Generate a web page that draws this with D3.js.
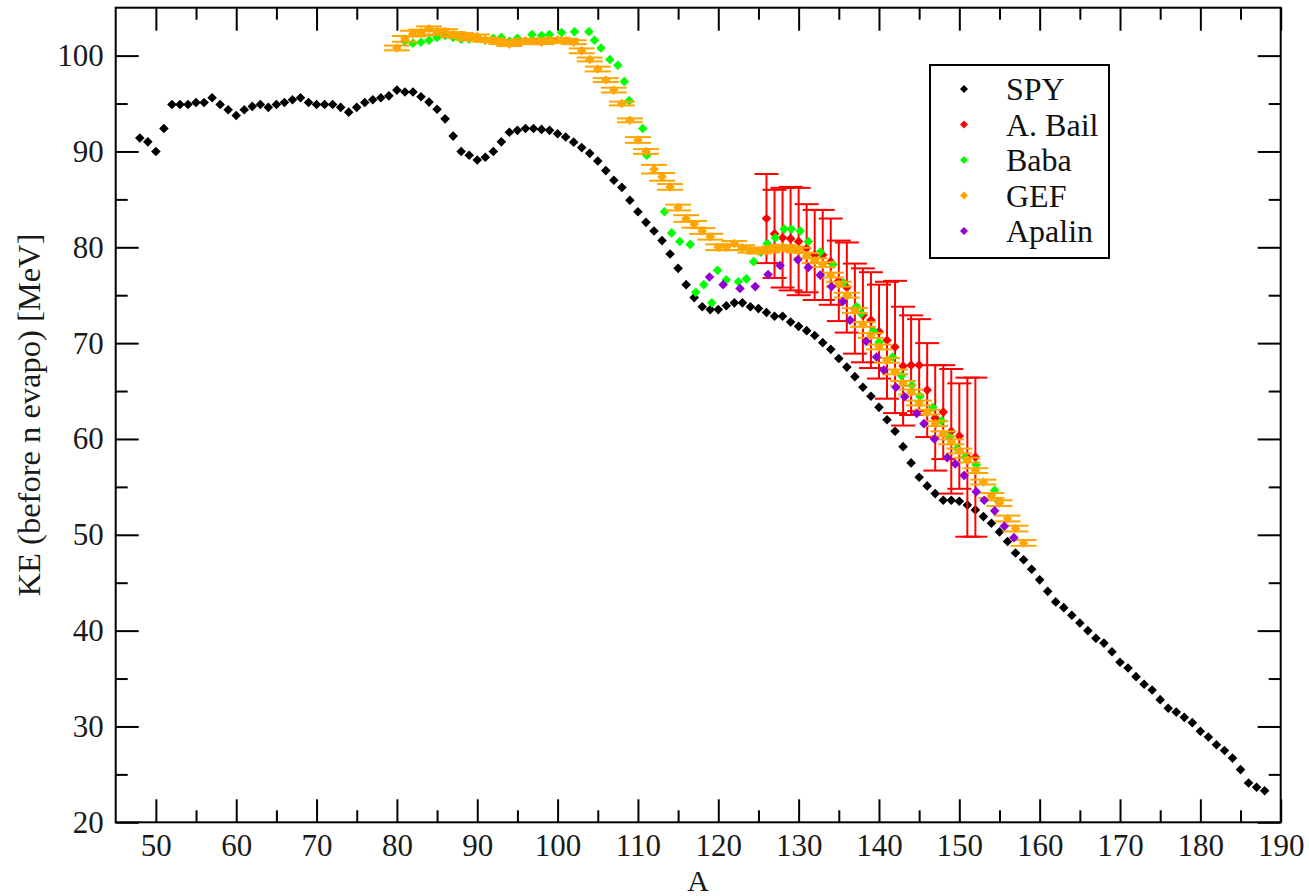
<!DOCTYPE html>
<html>
<head>
<meta charset="utf-8">
<script src="https://cdn.jsdelivr.net/npm/d3@7"></script>
<style>
  body { margin: 0; background: #fff; }
  svg { display: block; font-family: "Liberation Serif", "Times New Roman", serif; }
</style>
</head>
<body>
<svg id="chart"></svg>
<script>
// ---- data: [A, KE] or [A, KE, err] ----
var spy = [
  [48,91.4],[49,91.0],[50,90.0],[51,92.4],[52,94.9],[53,94.9],[54,94.9],[55,95.1],[56,95.1],[57,95.6],
  [58,94.9],[59,94.35],[60,93.75],[61,94.35],[62,94.7],[63,94.9],[64,94.6],[65,94.9],[66,95.1],[67,95.4],
  [68,95.6],[69,95.1],[70,94.9],[71,94.9],[72,94.9],[73,94.6],[74,94.1],[75,94.6],[76,95.1],[77,95.4],
  [78,95.6],[79,95.8],[80,96.4],[81,96.2],[82,96.2],[83,95.7],[84,95.15],[85,94.4],[86,93.4],[87,91.6],
  [88,90.0],[89,89.6],[90,89.1],[91,89.4],[92,90.0],[93,91.0],[94,92.0],[95,92.2],[96,92.4],[97,92.4],
  [98,92.3],[99,92.2],[100,91.85],[101,91.5],[102,90.97],[103,90.4],[104,89.8],[105,89.0],[106,88.0],[107,87.0],
  [108,86.25],[109,84.9],[110,83.7],[111,82.6],[112,81.7],[113,80.7],[114,79.3],[115,77.8],[116,76.1],[117,74.75],
  [118,73.8],[119,73.5],[120,73.5],[121,73.9],[122,74.2],[123,74.2],[124,73.8],[125,73.6],[126,73.2],[127,72.8],
  [128,72.8],[129,72.2],[130,71.75],[131,71.3],[132,70.8],[133,70.05],[134,69.35],[135,68.4],[136,67.5],[137,66.5],
  [138,65.4],[139,64.45],[140,63.3],[141,62.0],[142,60.8],[143,59.2],[144,57.5],[145,56.0],[146,55.1],[147,54.3],
  [148,53.6],[149,53.6],[150,53.5],[151,53.1],[152,52.6],[153,51.9],[154,51.2],[155,50.3],[156,49.3],[157,48.1],
  [158,47.4],[159,46.4],[160,45.3],[161,44.1],[162,43.0],[163,42.4],[164,41.6],[165,40.8],[166,40.0],[167,39.2],
  [168,38.7],[169,37.8],[170,36.7],[171,36.1],[172,35.2],[173,34.4],[174,33.8],[175,32.8],[176,31.9],[177,31.5],
  [178,30.95],[179,30.4],[180,29.5],[181,28.9],[182,28.1],[183,27.5],[184,26.7],[185,25.5],[186,24.1],[187,23.65],
  [188,23.3]
];

var bail = [
  [126,83.0,4.65],[127,81.4,4.6],[128,81.0,5.2],[129,80.9,5.4],[130,80.6,5.6],[131,79.9,4.6],[132,79.2,4.7],
  [133,79.2,4.7],[134,78.5,4.5],[135,76.5,4.2],[136,75.8,4.7],[137,73.6,4.7],[138,72.9,4.9],[139,72.4,5.0],
  [140,71.2,4.9],[141,70.3,6.1],[142,69.6,6.9],[143,67.6,6.2],[144,67.7,5.2],[145,67.7,4.8],[146,65.1,4.9],
  [147,62.2,5.5],[148,62.8,4.9],[149,60.8,6.5],[150,60.3,5.5],[151,58.1,8.3],[152,58.1,8.3]
];

var baba = [
  [81,101.5],[82,101.3],[83,101.4],[84,101.6],[85,101.9],[86,102.1],[87,101.9],[88,101.7],[89,101.7],[90,101.8],
  [91,101.6],[92,101.8],[93,101.9],[94,101.5],[95,101.8],[96.8,102.2],[98,102.1],[99,102.2],[100.5,102.4],[102.1,102.5],
  [103.9,102.5],[104.6,101.6],[105.4,100.8],[106.5,99.6],[107.5,99.0],[108.3,97.3],[108.9,95.3],[110.6,92.4],[111.1,89.6],
  [113.3,83.7],[114.2,81.5],[115.2,80.6],[116.5,80.3],[117.2,75.3],[118.2,76.1],[119.2,74.2],[119.9,77.6],[121,76.6],
  [122.5,76.4],[123.5,76.7],[124.4,78.5],[125.3,79.5],[126.1,80.4],[127.1,81.0],[128.2,81.9],[129.1,81.9],[130.2,81.7],
  [131.2,80.6],[132.7,79.5],[134.3,78.2],[135.6,76.3],[136.1,75.0],[137.2,73.8],[137.8,73.1],[139.3,71.3],[140,70.1],
  [141.7,68.55],[142.8,66.6],[144.1,65.6],[145.1,64.45],[146.7,63.3],[147.8,61.9],[148.8,60.2],[149.7,59.0],[150.7,58.1],
  [152.1,57.3],[154.4,54.65],[154.9,53.5]
];

var gef = [
  [80,100.8,0.25],[81,101.75,0.3],[82,102.3,0.3],[83,102.4,0.3],[84,102.8,0.25],[85,102.5,0.3],[86,102.5,0.25],
  [87,102.2,0.25],[88,102.1,0.25],[89,101.85,0.25],[90,102.0,0.2],[91,101.65,0.2],[92,101.6,0.2],[93,101.4,0.2],
  [94,101.2,0.2],[95,101.4,0.2],[96,101.55,0.2],[97,101.55,0.2],[98,101.4,0.2],[99,101.6,0.2],[100,101.65,0.2],
  [101,101.55,0.2],[102,101.4,0.2],[103,100.5,0.25],[104,99.6,0.2],[105,98.6,0.25],[106,97.45,0.2],[107,96.4,0.25],
  [108,95.0,0.2],[109,93.25,0.2],[110,91.2,0.3],[111,90.0,0.25],[112,88.15,0.45],[113,87.35,0.4],[114,86.3,0.3],
  [115,84.15,0.3],[116,83.0,0.35],[117,82.4,0.35],[118,81.7,0.3],[119,81.1,0.3],[120,80.0,0.3],[121,80.0,0.3],
  [122,80.4,0.25],[123,79.96,0.25],[124,79.7,0.25],[125,79.6,0.25],[126,79.7,0.25],[127,79.85,0.25],[128,80.0,0.25],
  [129,79.85,0.25],[130,79.7,0.25],[131,79.15,0.25],[132,78.6,0.25],[133,78.2,0.25],[134,77.1,0.25],[135,76.15,0.25],
  [136,75.0,0.25],[137,73.4,0.25],[138,71.95,0.25],[139,70.8,0.25],[140,69.6,0.25],[141,68.2,0.25],[142,67.0,0.25],
  [143,65.8,0.25],[144,64.9,0.25],[145,63.75,0.25],[146,62.8,0.25],[147,61.6,0.25],[148,60.55,0.25],[149,59.7,0.25],
  [150,58.75,0.25],[151,57.8,0.25],[152,56.7,0.25],[153,55.5,0.25],[154,54.1,0.25],[155,53.3,0.3],[156,51.7,0.3],
  [157,50.65,0.3],[158,49.15,0.3]
];

var apalin = [
  [118.9,76.9],[120.6,76.1],[122.7,75.7],[124.6,75.9],[126.2,77.15],[127.7,78.1],[129.9,78.7],[131.2,77.9],
  [132.7,77.1],[134.1,75.9],[135.5,74.35],[136.4,72.4],[138.4,70.2],[139.7,68.55],[140.6,67.2],[142.1,65.4],
  [143.2,64.4],[144.7,62.65],[145.6,61.6],[146.9,60.0],[148.5,58.05],[149.5,57.4],[150.6,56.2],[152.1,54.5],
  [153.1,53.6],[154.4,52.5],[155.6,50.9],[156.8,49.7]
];

var legendNames = ["SPY", "A. Bail", "Baba", "GEF", "Apalin"];
var legendColors = ["#000000", "#ff0000", "#00ff00", "#ffa500", "#9400d3"];

var xMajor = [50, 60, 70, 80, 90, 100, 110, 120, 130, 140, 150, 160, 170, 180, 190];
var xMinor = [55, 65, 75, 85, 95, 105, 115, 125, 135, 145, 155, 165, 175, 185];
var yMajor = [20, 30, 40, 50, 60, 70, 80, 90, 100];
var yMinor = [25, 35, 45, 55, 65, 75, 85, 95];

// ---- layout ----
var W = 1309, H = 896;
var margin = {top: 7.7, right: 28.3, bottom: 73.7, left: 115.7},
    width = W - margin.left - margin.right,
    height = H - margin.top - margin.bottom;

var svg = d3.select("#chart").attr("width", W).attr("height", H);
svg.append("rect").attr("width", W).attr("height", H).attr("fill", "#fff");

var g = svg.append("g")
  .attr("transform", "translate(" + margin.left + "," + margin.top + ")");

var x = d3.scaleLinear().domain([45, 190]).range([0, width]);
var y = d3.scaleLinear().domain([20, 105]).range([height, 0]);

// ticks on all four sides, pointing inward
function styleAxis(sel, fs) {
  sel.select(".domain").remove();
  sel.selectAll(".tick line").attr("stroke", "#000").attr("stroke-width", 2);
  sel.selectAll("text").attr("font-size", fs).attr("fill", "#1a1a1a")
     .attr("font-family", "Liberation Serif, Times New Roman, serif");
}

g.append("g").attr("transform", "translate(0," + height + ")")
  .call(d3.axisBottom(x).tickValues(xMajor).tickSize(-23).tickPadding(12).tickFormat(d3.format("d")))
  .call(styleAxis, 31);
g.append("g").attr("transform", "translate(0," + height + ")")
  .call(d3.axisBottom(x).tickValues(xMinor).tickSize(-12).tickFormat(""))
  .call(styleAxis, 31);
g.append("g")
  .call(d3.axisTop(x).tickValues(xMajor).tickSize(-23).tickFormat(""))
  .call(styleAxis, 31);
g.append("g")
  .call(d3.axisTop(x).tickValues(xMinor).tickSize(-12).tickFormat(""))
  .call(styleAxis, 31);

g.append("g")
  .call(d3.axisLeft(y).tickValues(yMajor).tickSize(-23).tickPadding(12).tickFormat(d3.format("d")))
  .call(styleAxis, 31);
g.append("g")
  .call(d3.axisLeft(y).tickValues(yMinor).tickSize(-12).tickFormat(""))
  .call(styleAxis, 31);
g.append("g").attr("transform", "translate(" + width + ",0)")
  .call(d3.axisRight(y).tickValues(yMajor).tickSize(-23).tickFormat(""))
  .call(styleAxis, 31);
g.append("g").attr("transform", "translate(" + width + ",0)")
  .call(d3.axisRight(y).tickValues(yMinor).tickSize(-12).tickFormat(""))
  .call(styleAxis, 31);

// frame
g.append("rect")
  .attr("width", width).attr("height", height)
  .attr("fill", "none").attr("stroke", "#000").attr("stroke-width", 2);

// axis titles
svg.append("text")
  .attr("x", margin.left + width / 2).attr("y", 891)
  .attr("text-anchor", "middle").attr("font-size", 30).attr("fill", "#1a1a1a")
  .text("A");
svg.append("text")
  .attr("transform", "translate(40," + (margin.top + height / 2) + ") rotate(-90)")
  .attr("text-anchor", "middle").attr("font-size", 32.5).attr("fill", "#1a1a1a")
  .text("KE (before n evapo) [MeV]");

// diamond marker = square turned by 45 deg
var diamond = d3.symbol().type(d3.symbolSquare).size(46);

function drawErrors(data, color, cap) {
  var eg = g.append("g").attr("stroke", color).attr("stroke-width", 2).attr("fill", "none");
  data.forEach(function(d) {
    var cx = x(d[0]), y0 = y(d[1] - d[2]), y1 = y(d[1] + d[2]);
    eg.append("line").attr("x1", cx).attr("x2", cx).attr("y1", y0).attr("y2", y1);
    eg.append("line").attr("x1", cx - cap).attr("x2", cx + cap).attr("y1", y0).attr("y2", y0);
    eg.append("line").attr("x1", cx - cap).attr("x2", cx + cap).attr("y1", y1).attr("y2", y1);
  });
}

function drawPoints(data, color) {
  g.append("g").selectAll("path")
    .data(data)
    .enter().append("path")
    .attr("d", diamond)
    .attr("fill", color)
    .attr("transform", function(d) {
      return "translate(" + x(d[0]) + "," + y(d[1]) + ") rotate(45)";
    });
}

drawPoints(spy, legendColors[0]);
drawErrors(bail, legendColors[1], 12);
drawPoints(bail, legendColors[1]);
drawPoints(baba, legendColors[2]);
drawErrors(gef, legendColors[3], 13);
drawPoints(gef, legendColors[3]);
drawPoints(apalin, legendColors[4]);

// legend
var lg = svg.append("g").attr("transform", "translate(930,65)");
lg.append("rect").attr("width", 179).attr("height", 193)
  .attr("fill", "#fff").attr("stroke", "#000").attr("stroke-width", 2);
legendNames.forEach(function(name, i) {
  var ly = 24 + i * 35.5;
  lg.append("path").attr("d", d3.symbol().type(d3.symbolSquare).size(32))
    .attr("fill", legendColors[i])
    .attr("transform", "translate(34," + ly + ") rotate(45)");
  lg.append("text").attr("x", 76).attr("y", ly).attr("dy", "0.35em")
    .attr("font-size", 32).attr("fill", "#111").text(name);
});
</script>
</body>
</html>
